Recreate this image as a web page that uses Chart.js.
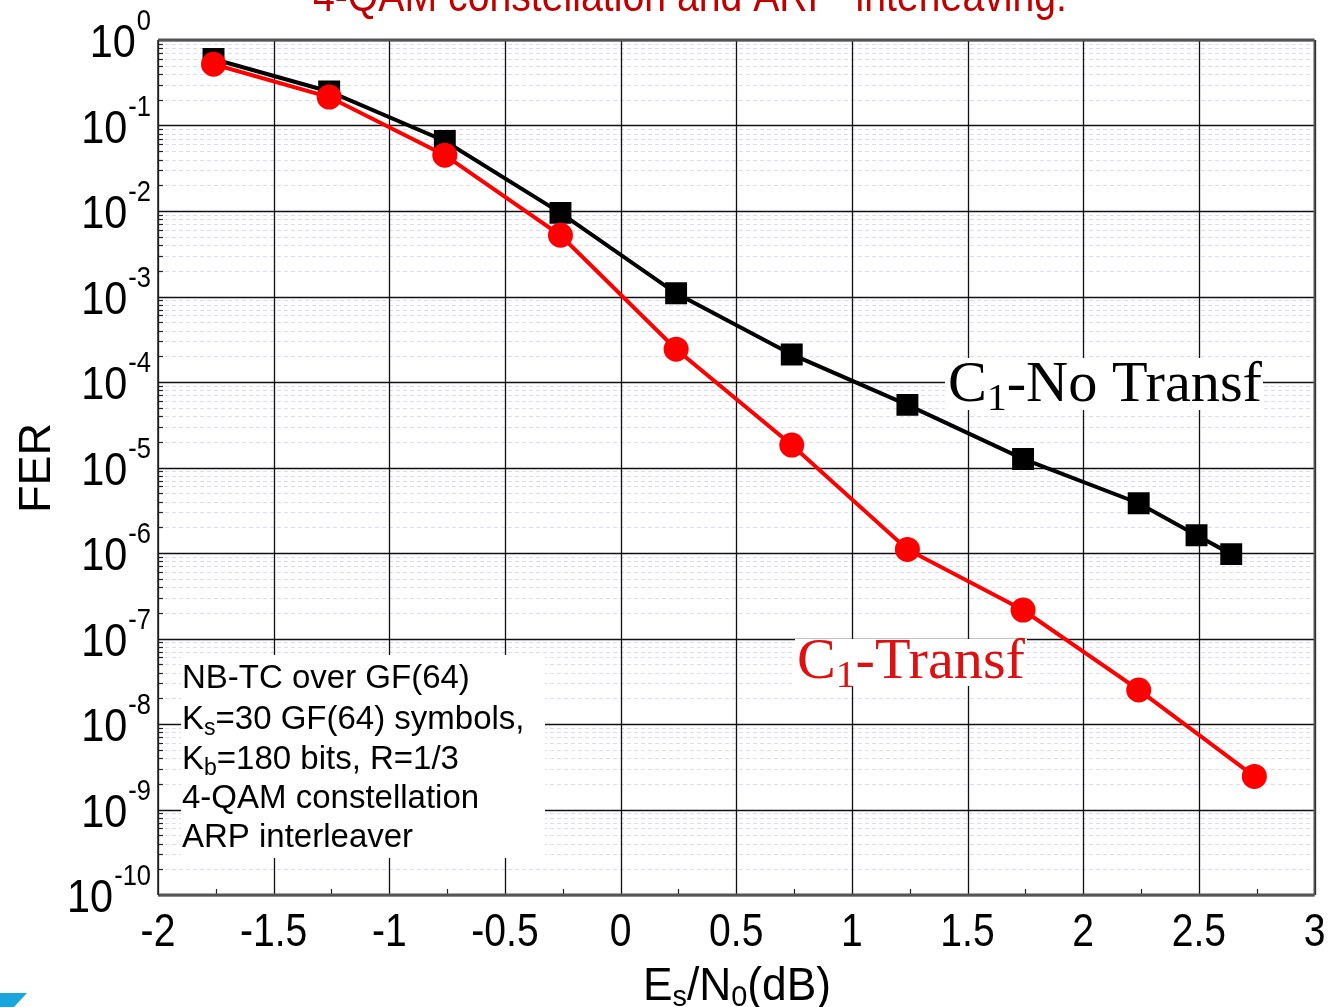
<!DOCTYPE html>
<html>
<head>
<meta charset="utf-8">
<script src="https://cdn.jsdelivr.net/npm/chart.js@4.4.1/dist/chart.umd.min.js"></script>
<style>
  html, body { margin: 0; padding: 0; background: #fff; }
  #wrap { width: 1330px; height: 1007px; }
</style>
</head>
<body>
<div id="wrap"><canvas id="c" width="1330" height="1007"></canvas></div>
<script>
// values
const snrNoTransf = [-1.76, -1.26, -0.76, -0.26, 0.24, 0.74, 1.24, 1.74, 2.24, 2.49, 2.64];
const ferNoTransf = [0.6, 0.25, 0.066, 0.0095, 1.09e-3, 2.1e-4, 5.4e-5, 1.26e-5, 3.82e-6, 1.61e-6, 9.7e-7];
const snrTransf = [-1.76, -1.26, -0.76, -0.26, 0.24, 0.74, 1.24, 1.74, 2.24, 2.74];
const ferTransf = [0.52, 0.215, 0.045, 5.2e-3, 2.42e-4, 1.83e-5, 1.1e-6, 2.15e-7, 2.5e-8, 2.44e-9];

const xTicks = [-2, -1.5, -1, -0.5, 0, 0.5, 1, 1.5, 2, 2.5, 3];
const yExps = [0, -1, -2, -3, -4, -5, -6, -7, -8, -9, -10];

const infoLines = [
    [{ t: 'NB-TC over GF(64)' }],
    [{ t: 'K' }, { t: 's', sub: true }, { t: '=30 GF(64) symbols,' }],
    [{ t: 'K' }, { t: 'b', sub: true }, { t: '=180 bits, R=1/3' }],
    [{ t: '4-QAM constellation' }],
    [{ t: 'ARP interleaver' }]
];

const SANS = '"Liberation Sans", Arial, sans-serif';
const SERIF = '"Liberation Serif", "Times New Roman", serif';

// text squeezed horizontally, like the narrow glyphs of the original
function squeezed(ctx, text, x, y, sx, align) {
    ctx.save();
    ctx.translate(x, y);
    ctx.scale(sx, 1);
    ctx.textAlign = align || 'left';
    ctx.fillText(text, 0, 0);
    ctx.restore();
}

// runs of text with optional subscripts, left aligned at x
function runsWidth(ctx, runs, size, subSize, family) {
    let w = 0;
    runs.forEach(r => {
        ctx.font = (r.sub ? subSize : size) + 'px ' + family;
        w += ctx.measureText(r.t).width;
    });
    return w;
}
function drawRuns(ctx, runs, x, y, size, subSize, subDy, family, sx) {
    sx = sx || 1;
    ctx.save();
    ctx.translate(x, y);
    ctx.scale(sx, 1);
    ctx.textAlign = 'left';
    let cx = 0;
    runs.forEach(r => {
        ctx.font = (r.sub ? subSize : size) + 'px ' + family;
        ctx.fillText(r.t, cx, r.sub ? subDy : 0);
        cx += ctx.measureText(r.t).width;
    });
    ctx.restore();
}

function hLine(ctx, x1, x2, y) { ctx.beginPath(); ctx.moveTo(x1, y); ctx.lineTo(x2, y); ctx.stroke(); }
function vLine(ctx, x, y1, y2) { ctx.beginPath(); ctx.moveTo(x, y1); ctx.lineTo(x, y2); ctx.stroke(); }

const decor = {
    id: 'decor',
    beforeDatasetsDraw(chart) {
        const { ctx, chartArea: a, scales: { x, y } } = chart;
        ctx.save();
        // minor log grid, light dashed
        ctx.strokeStyle = '#dcdcf5';
        ctx.lineWidth = 1;
        ctx.setLineDash([4, 3]);
        yExps.slice(1).forEach(e => {
            for (let m = 2; m <= 9; m++) {
                const py = Math.round(y.getPixelForValue(m * Math.pow(10, e))) + 0.5;
                hLine(ctx, a.left, a.right, py);
            }
        });
        ctx.setLineDash([]);
        // major grid
        ctx.strokeStyle = '#111';
        ctx.lineWidth = 1.3;
        yExps.forEach(e => hLine(ctx, a.left, a.right, Math.round(y.getPixelForValue(Math.pow(10, e))) + 0.5));
        xTicks.forEach(v => vLine(ctx, Math.round(x.getPixelForValue(v)) + 0.5, a.top, a.bottom));
        ctx.restore();
    },
    afterDatasetsDraw(chart) {
        const { ctx, chartArea: a, scales: { x, y } } = chart;
        ctx.save();
        // small inward ticks
        ctx.strokeStyle = '#222';
        ctx.lineWidth = 1.2;
        xTicks.slice(0, -1).forEach(v => {
            const px = Math.round(x.getPixelForValue(v + 0.25)) + 0.5;
            vLine(ctx, px, a.bottom - 6, a.bottom);
        });
        yExps.slice(1).forEach(e => {
            for (let m = 2; m <= 9; m++) {
                const py = Math.round(y.getPixelForValue(m * Math.pow(10, e))) + 0.5;
                hLine(ctx, a.left, a.left + 5, py);
            }
        });
        // frame
        ctx.strokeStyle = '#555';
        ctx.lineWidth = 3;
        hLine(ctx, a.left, a.right, a.top);
        hLine(ctx, a.left, a.right, a.bottom);
        ctx.lineWidth = 2;
        vLine(ctx, a.right, a.top, a.bottom);
        ctx.strokeStyle = '#222';
        ctx.lineWidth = 1.5;
        vLine(ctx, a.left, a.top, a.bottom);

        // info box
        ctx.fillStyle = '#fff';
        ctx.fillRect(181, 655, 364, 203);
        ctx.fillStyle = '#000';
        const baselines = [688, 729, 769, 808, 847];
        infoLines.forEach((runs, i) => drawRuns(ctx, runs, 182, baselines[i], 33, 23, 6, SANS));

        // curve labels
        const lblNo = [{ t: 'C' }, { t: '1', sub: true }, { t: '-No Transf' }];
        const lblTr = [{ t: 'C' }, { t: '1', sub: true }, { t: '-Transf' }];
        ctx.fillStyle = '#fff';
        ctx.fillRect(945, 358, 318, 52);
        ctx.fillRect(795, 639, 232, 47);
        let w = runsWidth(ctx, lblNo, 56, 38, SERIF);
        ctx.fillStyle = '#000';
        drawRuns(ctx, lblNo, 948, 401, 56, 38, 9, SERIF, 314 / w);
        w = runsWidth(ctx, lblTr, 56, 38, SERIF);
        ctx.fillStyle = '#dd1111';
        drawRuns(ctx, lblTr, 797, 678, 56, 38, 9, SERIF, 228 / w);
        ctx.restore();
    },
    afterDraw(chart) {
        const { ctx, chartArea: a, scales: { x, y } } = chart;
        ctx.save();
        ctx.fillStyle = '#000';
        ctx.textBaseline = 'alphabetic';
        // x tick labels
        ctx.font = '46px ' + SANS;
        xTicks.forEach(v => squeezed(ctx, String(v), x.getPixelForValue(v), 946, 0.85, 'center'));
        // y tick labels 10^e
        yExps.forEach(e => {
            const py = y.getPixelForValue(Math.pow(10, e));
            ctx.font = '30px ' + SANS;
            const ex = String(e);
            const ew = ctx.measureText(ex).width * 0.85;
            squeezed(ctx, ex, 151 - ew, py - 10, 0.85, 'left');
            ctx.font = '46px ' + SANS;
            squeezed(ctx, '10', 151 - ew - 1, py + 17, 0.9, 'right');
        });
        // axis titles
        const xt = [{ t: 'E' }, { t: 's', sub: true }, { t: '/N' }, { t: '0', sub: true }, { t: '(dB)' }];
        const xw = runsWidth(ctx, xt, 46, 30, SANS);
        drawRuns(ctx, xt, 643, 1000, 46, 30, 6, SANS, 188 / xw);
        ctx.save();
        ctx.translate(50, 468);
        ctx.rotate(-Math.PI / 2);
        ctx.font = '45px ' + SANS;
        ctx.textAlign = 'center';
        ctx.fillText('FER', 0, 0);
        ctx.restore();
        // title, cut at the top edge
        ctx.fillStyle = '#c00000';
        ctx.font = '44px ' + SANS;
        const title = '4-QAM constellation and ARP  interleaving:';
        const tw = ctx.measureText(title).width;
        squeezed(ctx, title, 690, 11, 754 / tw, 'center');
        // corner mark
        ctx.fillStyle = '#1aa6dc';
        ctx.beginPath();
        ctx.moveTo(0, 993); ctx.lineTo(27, 993); ctx.lineTo(14, 1007); ctx.lineTo(0, 1007);
        ctx.closePath();
        ctx.fill();
        ctx.restore();
    }
};

new Chart(document.getElementById('c'), {
    type: 'line',
    data: {
        datasets: [
            {
                label: 'C1-Transf',
                data: snrTransf.map((v, i) => ({ x: v, y: ferTransf[i] })),
                borderColor: '#ff0000',
                backgroundColor: '#ff0000',
                borderWidth: 4,
                pointStyle: 'circle',
                pointRadius: 12.5,
                pointBorderWidth: 0,
                tension: 0
            },
            {
                label: 'C1-No Transf',
                data: snrNoTransf.map((v, i) => ({ x: v, y: ferNoTransf[i] })),
                borderColor: '#000',
                backgroundColor: '#000',
                borderWidth: 4,
                pointStyle: 'rect',
                pointRadius: 15.5,
                pointBorderWidth: 0,
                tension: 0
            }
        ]
    },
    options: {
        responsive: false,
        animation: false,
        devicePixelRatio: 1,
        layout: { padding: { left: 158, top: 40, right: 15, bottom: 112 } },
        plugins: { legend: { display: false }, tooltip: { enabled: false } },
        scales: {
            x: { type: 'linear', min: -2, max: 3, display: false },
            y: { type: 'logarithmic', min: 1e-10, max: 1, display: false }
        }
    },
    plugins: [decor]
});
</script>
</body>
</html>
